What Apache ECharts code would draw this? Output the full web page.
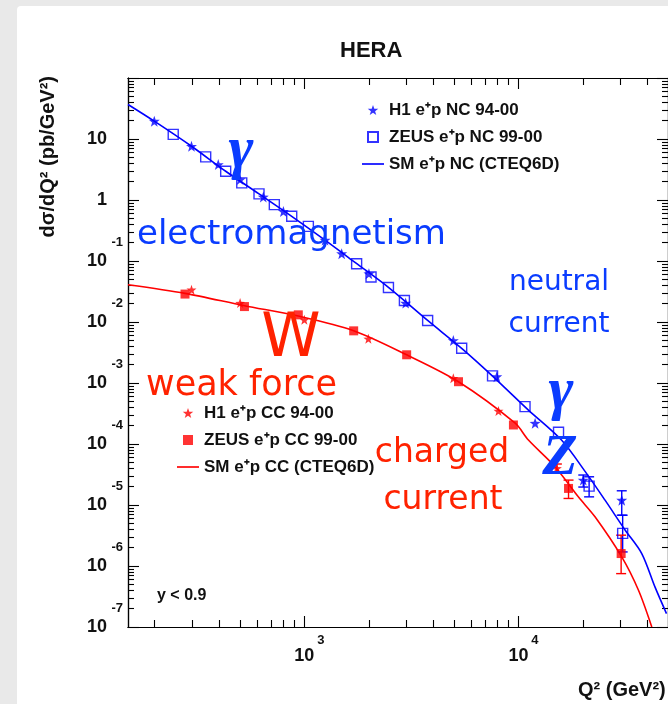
<!DOCTYPE html>
<html>
<head>
<meta charset="utf-8">
<script src="https://cdn.jsdelivr.net/npm/echarts@6/dist/echarts.min.js"></script>
<style>
  html, body { margin: 0; padding: 0; background: #e9e9e9; }
  #panel { position: absolute; left: 17px; top: 6px; width: 660px; height: 710px; background: #fff; border-radius: 4px; }
  #main { position: absolute; left: 0; top: 0; width: 668px; height: 704px; }
</style>
</head>
<body>
<div id="panel"></div>
<div id="main"></div>
<script>
// theory curves (Q2 in GeV^2, dsigma/dQ2 in pb/GeV^2)
const ncCurveQ2 = [150, 199, 297, 429, 614, 873, 1249, 1738, 2471, 3767, 5433, 7572, 11140, 15900, 20800, 25400, 31500, 37700, 43500, 49200];
const ncCurve   = [36.8, 19.6, 7.6, 2.96, 1.26, 0.54, 0.22, 0.093, 0.037, 0.0106, 0.0037, 0.0013, 3.6e-4, 1.16e-4, 3.3e-5, 1.2e-5, 3.9e-6, 1.6e-6, 4.5e-7, 1.66e-7];
const ccCurveQ2 = [150, 277, 525, 937, 1700, 3006, 5250, 9660, 11140, 14830, 19050, 22800, 30400, 36400, 42000];
const ccCurve   = [0.0408, 0.0295, 0.0185, 0.0125, 0.0072, 0.0029, 0.00105, 2.19e-4, 1.16e-4, 4.24e-5, 1.36e-5, 6.4e-6, 1.41e-6, 4.0e-7, 1.0e-7];

// measured points
const h1NcQ2 = [199, 297, 396, 501, 643, 798, 1249, 1494, 2003, 2974, 4966, 7925, 11970, 20100, 30400];
const h1Nc   = [19.6, 7.6, 3.81, 2.16, 1.12, 0.65, 0.22, 0.132, 0.0619, 0.0204, 0.00497, 0.00127, 2.19e-4, 2.56e-5, 1.2e-5];
const zeusNcQ2 = [244, 346, 429, 510, 614, 724, 873, 1044, 1755, 2049, 2471, 2934, 3767, 5433, 7572, 10740, 15400, 21400, 30700];
const zeusNc   = [11.9, 5.1, 2.96, 1.91, 1.26, 0.84, 0.54, 0.37, 0.090, 0.0546, 0.0368, 0.0225, 0.0106, 0.00372, 0.00131, 4.1e-4, 1.56e-4, 2.04e-5, 3.42e-6];
const h1CcQ2 = [297, 501, 1000, 1991, 4966, 8070, 15130];
const h1Cc   = [0.0338, 0.0204, 0.0109, 0.0053, 0.0012, 3.48e-4, 3.99e-5];
const zeusCcQ2 = [277, 525, 937, 1700, 3006, 5250, 9480, 17150, 30200];
const zeusCc   = [0.0287, 0.0179, 0.0131, 0.00716, 0.0029, 0.00105, 2.05e-4, 1.87e-5, 1.6e-6];

// error bars at high Q2
const ncErrQ2 = [20100, 21400, 30400, 30700];
const ncErrLo = [1.97e-5, 1.36e-5, 6.8e-6, 1.7e-6];
const ncErrHi = [3.1e-5, 2.9e-5, 1.71e-5, 6.8e-6];
const ccErrQ2 = [15130, 17150, 30200];
const ccErrLo = [3.4e-5, 1.28e-5, 7.5e-7];
const ccErrHi = [4.7e-5, 2.56e-5, 3.2e-6];

// axis ticks
const xMajor = [1000, 10000];
const xMinor = [200, 300, 400, 500, 600, 700, 800, 900, 2000, 3000, 4000, 5000, 6000, 7000, 8000, 9000, 20000, 30000, 40000];
const yMajor = [1e-7, 1e-6, 1e-5, 1e-4, 1e-3, 1e-2, 1e-1, 1, 10, 100];
const yLabels = [1e-7, 1e-6, 1e-5, 1e-4, 1e-3, 1e-2, 1e-1, 1, 10];
const yMinor = [];
yMajor.slice(0, 9).forEach(function (d) {
    for (let k = 2; k <= 9; k++) yMinor.push(+(d * k).toPrecision(3));
});

const zip = (a, b) => a.map((v, i) => [v, b[i]]);
const zip3 = (a, b, c) => a.map((v, i) => [v, b[i], c[i]]);

const BLUE = '#0000ff';
const RED = '#ff0000';
const INK = '#111';
const HBLUE = '#0a3cff';
const HRED = '#ff2200';
const starPath = 'path://M0,-10L2.35,-3.24L9.51,-3.09L3.8,1.24L5.88,8.09L0,4L-5.88,8.09L-3.8,1.24L-9.51,-3.09L-2.35,-3.24Z';
const squarePath = 'path://M0,0H10V10H0Z';
const linePath = 'path://M0,0H24V1.8H0Z';
const handFont = "'Comic Sans MS', 'DejaVu Sans', sans-serif";

var chart = echarts.init(document.getElementById('main'), null, { renderer: 'canvas' });

function expOf(v) { return Math.round(Math.log10(v)); }

const tickFont = { fontWeight: 'bold', fontFamily: 'Liberation Sans', color: INK };
// exponent line above, base line below (ROOT style superscripts)
const xLabelRich = {
    sp: Object.assign({ fontSize: 13, lineHeight: 14, width: 33 }, tickFont),
    e: Object.assign({ fontSize: 13, lineHeight: 14, width: 9, align: 'left' }, tickFont),
    b: Object.assign({ fontSize: 18, lineHeight: 18 }, tickFont)
};
const yLabelRich = {
    e: Object.assign({ fontSize: 13, lineHeight: 16, width: 16, align: 'right' }, tickFont),
    b: Object.assign({ fontSize: 18, lineHeight: 22, align: 'right' }, tickFont),
    sp: Object.assign({ fontSize: 13, lineHeight: 22, width: 16, align: 'right' }, tickFont),
    z: Object.assign({ fontSize: 13, lineHeight: 16 }, tickFont)
};

function xAxisOf(pos, values, len, withLabels) {
    return {
        type: 'log', logBase: 10, min: 150, max: 50000, position: pos,
        axisLine: { show: true, onZero: false, lineStyle: { color: '#000', width: 1.2 } },
        axisTick: { show: true, inside: true, length: len, customValues: values, lineStyle: { color: '#000', width: 1.1 } },
        axisLabel: withLabels ? {
            show: true, margin: 6, customValues: xMajor, showMinLabel: true, showMaxLabel: true,
            formatter: function (v) { return '{sp| }{e|' + expOf(v) + '}\n{b|10}'; },
            rich: xLabelRich
        } : { show: false },
        splitLine: { show: false }
    };
}
function yAxisOf(pos, values, len, withLabels) {
    return {
        type: 'log', logBase: 10, min: 1e-7, max: 100, position: pos,
        axisLine: { show: true, onZero: false, lineStyle: { color: '#000', width: 1.2 } },
        axisTick: { show: true, inside: true, length: len, customValues: values, lineStyle: { color: '#000', width: 1.1 } },
        axisLabel: withLabels ? {
            show: true, margin: 5, customValues: yLabels, showMinLabel: true, showMaxLabel: true,
            formatter: function (v) {
                const e = expOf(v);
                if (e === 0) return '{e| }\n{b|1}{sp| }\n{z| }';
                if (e === 1) return '{e| }\n{b|10}{sp| }\n{z| }';
                return '{e|' + e + '}\n{b|10}{sp| }\n{z| }';
            },
            rich: yLabelRich
        } : { show: false },
        splitLine: { show: false }
    };
}

function errorBar(color) {
    return function (params, api) {
        const q = api.value(0);
        const lo = api.coord([q, api.value(1)]);
        const hi = api.coord([q, api.value(2)]);
        const w = 5;
        const st = { stroke: color, lineWidth: 1.4 };
        return {
            type: 'group', children: [
                { type: 'line', shape: { x1: lo[0], y1: lo[1], x2: hi[0], y2: hi[1] }, style: st },
                { type: 'line', shape: { x1: lo[0] - w, y1: lo[1], x2: lo[0] + w, y2: lo[1] }, style: st },
                { type: 'line', shape: { x1: hi[0] - w, y1: hi[1], x2: hi[0] + w, y2: hi[1] }, style: st }
            ]
        };
    };
}

const legendText = { fontSize: 17, fontWeight: 'bold', fontFamily: 'Liberation Sans', color: INK, lineHeight: 20 };

function hand(text, x, y, size, color, align) {
    return {
        type: 'text', x: x, y: y, z: 100,
        style: { text: text, fill: color, textAlign: align || 'left', textVerticalAlign: 'middle',
                 font: 'normal ' + size + 'px ' + handFont }
    };
}
function greek(text, x, y, size) {
    return {
        type: 'text', x: x, y: y, z: 100,
        style: { text: text, fill: HBLUE, textAlign: 'center', textVerticalAlign: 'middle',
                 font: 'italic bold ' + size + 'px "Liberation Serif", serif' }
    };
}

var option = {
    animation: false,
    title: {
        text: 'HERA', left: 335, top: 35,
        textStyle: { fontSize: 22, fontWeight: 'bold', fontFamily: 'Liberation Sans', color: INK }
    },
    grid: { left: 128, top: 78, width: 541, height: 549 },
    xAxis: [
        xAxisOf('bottom', xMajor, 11, true),
        xAxisOf('bottom', xMinor, 7, false),
        xAxisOf('top', xMajor, 11, false),
        xAxisOf('top', xMinor, 7, false)
    ],
    yAxis: [
        yAxisOf('left', yMajor, 11, true),
        yAxisOf('left', yMinor, 6, false),
        yAxisOf('right', yMajor, 11, false),
        yAxisOf('right', yMinor, 6, false)
    ],
    legend: [
        {
            orient: 'vertical', left: 357, top: 95, itemWidth: 22, itemHeight: 10, itemGap: 7,
            textStyle: legendText,
            data: [
                { name: 'H1 e\u207ap NC 94-00' },
                { name: 'ZEUS e\u207ap NC 99-00', icon: squarePath },
                { name: 'SM e\u207ap NC (CTEQ6D)', icon: linePath }
            ]
        },
        {
            orient: 'vertical', left: 172, top: 398, itemWidth: 22, itemHeight: 10, itemGap: 7,
            textStyle: legendText,
            data: [
                { name: 'H1 e\u207ap CC 94-00' },
                { name: 'ZEUS e\u207ap CC 99-00', icon: squarePath },
                { name: 'SM e\u207ap CC (CTEQ6D)', icon: linePath }
            ]
        }
    ],
    series: [
        { name: 'SM e\u207ap NC (CTEQ6D)', type: 'line', data: zip(ncCurveQ2, ncCurve), showSymbol: false, symbol: 'none',
          smooth: 0.3, lineStyle: { color: BLUE, width: 1.6 }, itemStyle: { color: BLUE }, z: 2 },
        { name: 'SM e\u207ap CC (CTEQ6D)', type: 'line', data: zip(ccCurveQ2, ccCurve), showSymbol: false, symbol: 'none',
          smooth: 0.3, lineStyle: { color: RED, width: 1.6 }, itemStyle: { color: RED }, z: 2 },
        { name: 'nc-err', type: 'custom', renderItem: errorBar(BLUE), data: zip3(ncErrQ2, ncErrLo, ncErrHi),
          encode: { x: 0, y: [1, 2] }, z: 3 },
        { name: 'cc-err', type: 'custom', renderItem: errorBar(RED), data: zip3(ccErrQ2, ccErrLo, ccErrHi),
          encode: { x: 0, y: [1, 2] }, z: 3 },
        { name: 'ZEUS e\u207ap NC 99-00', type: 'scatter', data: zip(zeusNcQ2, zeusNc), symbol: 'rect', symbolSize: 10,
          itemStyle: { color: 'rgba(255,255,255,0)', borderColor: BLUE, borderWidth: 1.4 }, z: 4 },
        { name: 'H1 e\u207ap NC 94-00', type: 'scatter', data: zip(h1NcQ2, h1Nc), symbol: starPath, symbolSize: 11,
          itemStyle: { color: BLUE }, z: 5 },
        { name: 'ZEUS e\u207ap CC 99-00', type: 'scatter', data: zip(zeusCcQ2, zeusCc), symbol: 'rect', symbolSize: 9,
          itemStyle: { color: RED }, z: 4 },
        { name: 'H1 e\u207ap CC 94-00', type: 'scatter', data: zip(h1CcQ2, h1Cc), symbol: starPath, symbolSize: 10,
          itemStyle: { color: RED }, z: 5 }
    ],
    graphic: [
        { type: 'text', x: 48, y: 76, rotation: Math.PI / 2, z: 50,
          style: { text: 'd\u03c3/dQ\u00b2 (pb/GeV\u00b2)', textAlign: 'right', textVerticalAlign: 'middle', fill: INK,
                   font: 'bold 20px "Liberation Sans", sans-serif' } },
        { type: 'text', x: 578, y: 690, z: 50,
          style: { text: 'Q\u00b2 (GeV\u00b2)', textAlign: 'left', textVerticalAlign: 'middle', fill: INK,
                   font: 'bold 20px "Liberation Sans", sans-serif' } },
        { type: 'text', x: 157, y: 596, z: 50,
          style: { text: 'y < 0.9', textAlign: 'left', textVerticalAlign: 'middle', fill: INK,
                   font: 'bold 16px "Liberation Sans", sans-serif' } },
        greek('\u03b3', 241, 151, 60),
        hand('electromagnetism', 137, 235, 34, HBLUE),
        hand('neutral', 559, 283, 28, HBLUE, 'center'),
        hand('current', 559, 325, 28, HBLUE, 'center'),
        hand('W', 291, 340, 60, HRED, 'center'),
        hand('weak force', 146, 386, 35, HRED),
        hand('charged', 442, 453, 33, HRED, 'center'),
        hand('current', 443, 500, 33, HRED, 'center'),
        greek('\u03b3', 561, 392, 60),
        greek('Z', 560, 459, 58)
    ]
};
chart.setOption(option);
window.addEventListener('resize', () => chart.resize());
</script>
</body>
</html>
